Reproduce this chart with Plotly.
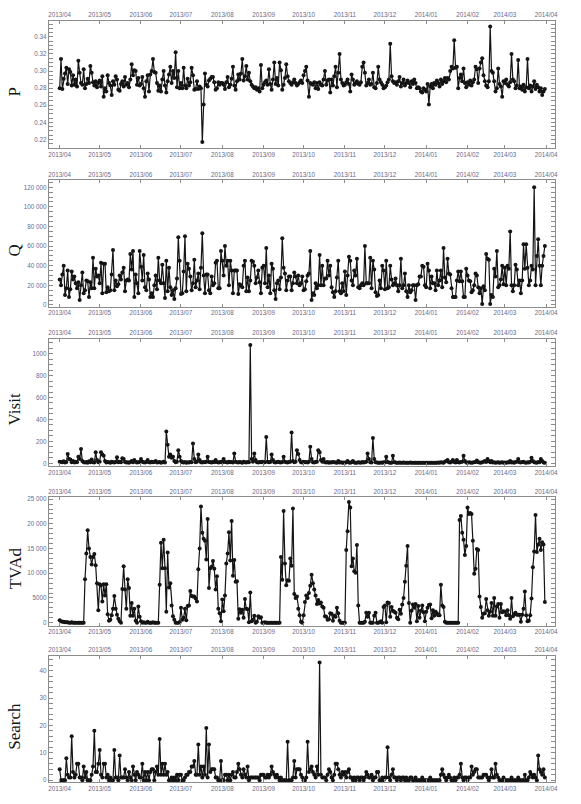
import pandas as pd
import plotly.graph_objects as go

START = "2013-04-01"

# daily series, 2013-04-01 .. 2014-03-31, one row = 10 days
P = [
    0.280, 0.314, 0.279, 0.291, 0.297, 0.304, 0.285, 0.302, 0.299, 0.283,
    0.295, 0.284, 0.290, 0.282, 0.312, 0.298, 0.286, 0.284, 0.302, 0.280,
    0.285, 0.291, 0.286, 0.306, 0.298, 0.287, 0.283, 0.288, 0.281, 0.286,
    0.289, 0.282, 0.294, 0.270, 0.280, 0.276, 0.295, 0.286, 0.283, 0.272,
    0.288, 0.284, 0.294, 0.290, 0.278, 0.277, 0.285, 0.288, 0.282, 0.293,
    0.284, 0.286, 0.281, 0.290, 0.308, 0.295, 0.301, 0.300, 0.284, 0.292,
    0.283,
    0.285, 0.293, 0.280, 0.270, 0.288, 0.295, 0.276, 0.296, 0.300, 0.314,
    0.299, 0.298, 0.286, 0.277, 0.283, 0.276, 0.290, 0.300, 0.283, 0.275,
    0.288, 0.296, 0.305, 0.286, 0.300, 0.292, 0.322, 0.281, 0.300, 0.280,
    0.286, 0.280, 0.304, 0.283, 0.280, 0.291, 0.283, 0.287, 0.304, 0.295,
    0.278, 0.279, 0.288, 0.279, 0.282, 0.280, 0.217, 0.261, 0.297, 0.284,
    0.282, 0.289, 0.291, 0.293, 0.293, 0.287, 0.278, 0.280, 0.287, 0.284,
    0.286,
    0.286, 0.284, 0.279, 0.287, 0.293, 0.281, 0.284, 0.291, 0.305, 0.283,
    0.278, 0.288, 0.296, 0.290, 0.297, 0.314, 0.289, 0.294, 0.306, 0.290,
    0.298, 0.288, 0.284, 0.282, 0.280, 0.281, 0.278, 0.280, 0.276, 0.307,
    0.280,
    0.284, 0.287, 0.289, 0.284, 0.302, 0.285, 0.278, 0.290, 0.310, 0.285,
    0.292, 0.283, 0.310, 0.301, 0.278, 0.284, 0.292, 0.308, 0.294, 0.288,
    0.286, 0.284, 0.287, 0.290, 0.286, 0.283, 0.285, 0.287, 0.289, 0.286,
    0.295, 0.300, 0.305, 0.289, 0.270, 0.286, 0.285, 0.284, 0.287, 0.280,
    0.286, 0.279, 0.287, 0.284, 0.283, 0.290, 0.300, 0.284, 0.289, 0.290,
    0.275, 0.290, 0.283, 0.294, 0.305, 0.281, 0.298, 0.320, 0.290, 0.286,
    0.283,
    0.284, 0.287, 0.290, 0.285, 0.276, 0.296, 0.290, 0.284, 0.286, 0.288,
    0.285, 0.284, 0.287, 0.305, 0.310, 0.298, 0.283, 0.286, 0.290, 0.284,
    0.285, 0.298, 0.281, 0.280, 0.286, 0.305, 0.290, 0.287, 0.284, 0.280,
    0.281, 0.283, 0.287, 0.290, 0.332, 0.294, 0.288, 0.286, 0.287, 0.284,
    0.288, 0.293, 0.282, 0.286, 0.290, 0.283, 0.286, 0.289, 0.286, 0.281,
    0.288, 0.285, 0.290, 0.286, 0.280, 0.281, 0.280, 0.276, 0.275, 0.280,
    0.278,
    0.276, 0.285, 0.261, 0.282, 0.285, 0.280, 0.286, 0.284, 0.289, 0.286,
    0.282, 0.290, 0.285, 0.288, 0.292, 0.287, 0.292, 0.290, 0.300, 0.305,
    0.303, 0.336, 0.304, 0.305, 0.280, 0.292, 0.296, 0.288, 0.303, 0.286,
    0.281,
    0.287, 0.284, 0.289, 0.283, 0.287, 0.290, 0.305, 0.302, 0.286, 0.303,
    0.310, 0.315, 0.295, 0.288, 0.283, 0.281, 0.288, 0.352, 0.300, 0.298,
    0.288, 0.276, 0.280, 0.303, 0.285, 0.282, 0.270, 0.288,
    0.286, 0.290, 0.284, 0.282, 0.287, 0.320, 0.290, 0.288, 0.280, 0.283,
    0.313, 0.280, 0.282, 0.278, 0.284, 0.276, 0.281, 0.314, 0.280, 0.283,
    0.276, 0.282, 0.288, 0.279, 0.284, 0.281, 0.276, 0.280, 0.272, 0.276,
    0.279,
]

Q = [
    26000, 20000, 31000, 40000, 10000, 17000, 35000, 8000, 16000, 34000,
    26000, 29000, 22000, 17000, 23000, 5000, 20000, 33000, 12000, 15000,
    25000, 24000, 8000, 23000, 17000, 48000, 17000, 37000, 29000, 30000,
    22000, 43000, 12000, 42000, 42000, 13000, 18000, 14000, 15000, 31000,
    56000, 15000, 25000, 19000, 21000, 30000, 26000, 33000, 38000, 14000,
    25000, 26000, 25000, 52000, 36000, 55000, 8000, 31000, 22000, 12000,
    55000, 39000, 25000, 51000, 18000, 15000, 32000, 26000, 8000, 12000,
    8000, 20000, 30000, 16000, 48000, 25000, 22000, 41000, 22000, 7000,
    45000, 14000, 38000, 18000, 10000, 15000, 6000, 17000, 27000, 69000,
    45000, 11000, 12000, 34000, 70000, 14000, 42000, 37000, 29000, 15000,
    22000, 46000, 18000, 25000, 32000, 16000, 38000, 73000, 30000, 12000,
    31000, 31000, 15000, 12000, 29000, 20000, 22000, 43000, 45000, 17000,
    17000, 55000, 45000, 30000, 60000, 40000, 45000, 20000, 45000, 35000,
    12000, 35000, 35000, 35000, 11000, 21000, 20000, 18000, 40000, 45000,
    14000, 28000, 14000, 25000, 45000, 44000, 40000, 22000, 28000, 35000,
    23000, 12000, 38000, 40000, 22000, 58000, 18000, 30000, 12000, 42000,
    37000, 15000, 6000, 22000, 25000, 16000, 28000, 68000, 38000, 32000,
    15000, 25000, 29000, 29000, 15000, 22000, 33000, 29000, 22000, 30000,
    20000, 22000, 29000, 15000, 16000, 24000, 30000, 32000, 55000, 5000,
    12000, 10000, 22000, 17000, 20000, 51000, 20000, 40000, 20000, 27000,
    27000, 45000, 30000, 40000, 18000, 13000, 8000, 14000, 28000, 45000,
    14000, 12000, 22000, 14000, 34000, 10000, 30000, 49000, 45000, 25000,
    20000, 35000, 30000, 47000, 18000, 17000, 20000, 22000, 20000, 60000,
    22000, 22000, 22000, 48000, 17000, 45000, 36000, 13000, 9000, 10000,
    25000, 17000, 40000, 35000, 16000, 45000, 17000, 18000, 40000, 26000,
    20000, 22000, 27000, 20000, 14000, 20000, 47000, 17000, 20000, 32000,
    14000, 8000, 20000, 13000, 15000, 20000, 20000, 5000, 20000, 21000,
    29000, 29000, 40000, 39000, 20000, 18000, 42000, 35000, 17000, 29000,
    22000, 22000, 15000, 35000, 20000, 25000, 35000, 18000, 58000, 28000,
    23000, 47000, 32000, 31000, 17000, 8000, 8000, 8000, 25000, 34000,
    24000, 34000, 24000, 8000, 8000, 37000, 30000, 25000, 24000, 13000,
    15000, 20000, 32000, 30000, 18000, 12000, 17000, 1000, 19000, 15000,
    52000, 47000, 46000, 1000, 10000, 8000, 37000, 29000, 55000, 18000,
    20000, 26000, 40000, 21000, 38000, 20000, 40000, 37000, 75000, 20000,
    14000, 20000, 41000, 36000, 20000, 25000, 12000, 25000, 62000, 37000,
    62000, 38000, 20000, 25000, 40000, 36000, 120000, 20000, 50000, 67000,
    40000, 20000, 40000, 50000, 60000,
]

VISIT = [
    15, 12, 10, 18, 8, 12, 85, 40, 35, 10,
    20, 8, 15, 10, 60, 40, 130, 20, 10, 8,
    12, 5, 18, 10, 35, 10, 8, 100, 30, 10,
    15, 100, 80, 70, 20, 8, 12, 10, 6, 15,
    10, 8, 12, 55, 10, 15, 10, 45, 40, 12,
    8, 10, 5, 12, 20, 10, 30, 15, 8, 10,
    12, 40, 15, 10, 8, 12, 30, 10, 8, 15,
    10, 12, 20, 8, 10, 12, 6, 10, 15, 8,
    290, 170, 60, 80, 50, 60, 20, 10, 15, 120,
    60, 20, 10, 8, 12, 6, 10, 8, 12, 10,
    180, 40, 10, 15, 80, 30, 10, 8, 12, 10,
    15, 60, 12, 10, 8, 15, 10, 30, 12, 8,
    10, 15, 8, 40, 12, 10, 8, 15, 10, 12,
    8, 90, 15, 10, 8, 12, 10, 6, 15, 10,
    8, 12, 10, 1080, 40, 15, 90, 30, 10, 8,
    12, 10, 15, 8, 10, 240, 15, 10, 12, 80,
    30, 10, 8, 12, 15, 10, 8, 12, 60, 15,
    10, 8, 12, 15, 280, 20, 10, 15, 120, 85,
    30, 10, 8, 15, 10, 12, 8, 15, 150, 40,
    10, 8, 12, 15, 120, 100, 30, 15, 40, 10,
    8, 12, 6, 10, 8, 12, 10, 8, 6, 20,
    8, 10, 6, 8, 5, 10, 20, 8, 6, 10,
    20, 8, 6, 5, 10, 8, 6, 12, 8, 10,
    15, 90, 40, 10, 8, 230, 40, 10, 8, 6,
    5, 8, 6, 10, 8, 60, 12, 8, 6, 5,
    70, 10, 8, 6, 5, 8, 6, 5, 8, 6,
    5, 6, 5, 8, 5, 6, 5, 4, 6, 5,
    4, 5, 6, 5, 4, 5, 6, 4, 5, 6,
    5, 4, 6, 5, 8, 6, 10, 8, 6, 15,
    20, 30, 10, 8, 15, 30, 12, 8, 30, 10,
    8, 12, 15, 70, 20, 8, 6, 10, 8, 6,
    8, 10, 12, 25, 10, 8, 6, 10, 15, 20,
    12, 40, 20, 10, 20, 8, 10, 6, 8, 10,
    6, 8, 10, 6, 8, 5, 10, 8, 20, 8,
    10, 6, 12, 15, 40, 10, 8, 12, 15, 8,
    6, 10, 8, 15, 50, 20, 10, 8, 6, 12,
    10, 40, 20, 8, 5,
]

TVAD = [
    500, 300, 200, 200, 100, 100, 100, 0, 0, 100,
    0, 0, 0, 0, 0, 0, 0, 0, 0, 8800,
    14000, 18700, 15000, 13300, 11800, 13300, 13900, 11600, 8000, 2500,
    7800, 7600, 4300, 7800, 5500, 7800, 1700, 400, 600, 1500,
    2800, 5400, 2800, 1600, 800, 300, 0, 6800, 11400, 6700,
    2800, 8800, 7000, 1400, 4000, 1400, 2800, 400, 0, 3300,
    1200, 300, 0, 100, 0, 0, 200, 0, 0, 0,
    100, 0, 0, 0, 0, 7700, 16200, 11000, 16800, 11000,
    2200, 14200, 7100, 8000, 3500, 1300, 600, 0, 0, 0,
    100, 3000, 600, 1000, 2800, 500, 3400, 3500, 6400, 5400,
    5300, 5300, 4900, 4300, 10800, 15000, 23500, 18200, 17000, 16600,
    12800, 21000, 7000, 11000, 11300, 12500, 10900, 6700, 9400, 2800,
    1900, 300, 4700, 2300, 5500, 12000, 14000, 18300, 12600, 20600,
    9500, 12700, 8300, 8400, 800, 2700, 2000, 2600, 1000, 4800,
    2800, 2700, 100, 6100, 300, 600, 1400, 0, 200, 1300,
    1000, 1100, 0, 0, 100, 0, 0, 0, 0, 0,
    0, 0, 0, 0, 0, 0, 13300, 8700, 22600, 12000,
    7600, 8600, 8500, 13000, 11500, 23100, 5800, 5000, 5300, 2800,
    1500, 200, 0, 1500, 4200, 5500, 5000, 6000, 7500, 9700,
    8000, 6700, 5500, 3800, 4600, 3900, 4100, 3300, 3000, 1300,
    1200, 600, 700, 1900, 1800, 400, 1400, 1200, 3000, 1900,
    400, 0, 0, 0, 0, 14700, 18500, 24400, 23300, 11400,
    13000, 10400, 10100, 15700, 3500, 0, 0, 0, 0, 200,
    2000, 1200, 2000, 0, 0, 0, 1400, 2000, 0, 0,
    100, 300, 0, 3200, 3500, 100, 4100, 4000, 1200, 3200,
    2400, 2200, 2000, 1000, 700, 2600, 1800, 3700, 5000, 8300,
    11500, 15500, 4000, 0, 2400, 3700, 3000, 3800, 300, 3400,
    1000, 2400, 3500, 2100, 300, 2200, 3000, 3600, 3700, 900,
    2500, 1400, 2200, 1900, 1500, 1500, 7700, 3500, 3200, 200,
    0, 0, 0, 0, 0, 0, 0, 0, 0, 0,
    20800, 21600, 18200, 16800, 13700, 15500, 23300, 22000, 22200, 22000,
    16600, 9900, 10900, 14900, 14700, 5300, 3200, 1000, 1800, 1900,
    4800, 2500, 1400, 2200, 4000, 1400, 5000, 1400, 3300, 3800,
    1000, 3800, 2100, 2300, 2200, 1500, 2500, 1500, 800, 5000,
    1300, 1700, 2000, 1600, 1600, 1600, 200, 1600, 2800, 6300,
    1500, 300, 400, 1500, 4900, 11200, 14400, 21800, 14300, 15800,
    17000, 14700, 16300, 15800, 4200,
]

SEARCH = [
    4, 0, 0, 0, 0, 8, 2, 1, 1, 16,
    3, 1, 2, 6, 6, 1, 1, 0, 5, 1,
    3, 0, 0, 0, 2, 5, 18, 3, 3, 6,
    11, 2, 1, 6, 6, 1, 2, 0, 1, 0,
    0, 11, 1, 1, 0, 9, 1, 1, 1, 4,
    1, 0, 3, 1, 0, 5, 2, 0, 3, 2,
    1, 1, 6, 0, 3, 0, 3, 0, 3, 4,
    4, 0, 3, 5, 2, 15, 2, 6, 2, 6,
    2, 3, 0, 0, 1, 0, 1, 0, 2, 0,
    2, 2, 0, 0, 1, 2, 2, 3, 3, 5,
    5, 7, 2, 2, 13, 2, 5, 1, 5, 2,
    19, 1, 13, 3, 4, 4, 4, 1, 1, 0,
    0, 7, 0, 0, 2, 2, 0, 2, 0, 2,
    3, 1, 1, 3, 6, 4, 2, 1, 4, 2,
    1, 5, 0, 1, 1, 1, 1, 1, 1, 1,
    0, 2, 2, 2, 1, 1, 2, 1, 2, 5,
    3, 2, 1, 2, 1, 0, 1, 0, 0, 0,
    0, 14, 0, 0, 0, 1, 7, 1, 4, 4,
    4, 2, 1, 0, 0, 1, 14, 3, 4, 5,
    3, 2, 1, 5, 2, 43, 2, 1, 1, 1,
    0, 2, 4, 3, 1, 0, 2, 6, 6, 4,
    2, 1, 3, 2, 3, 1, 3, 4, 1, 1,
    0, 1, 0, 1, 1, 0, 1, 1, 0, 1,
    3, 2, 1, 1, 2, 0, 1, 1, 3, 3,
    0, 0, 1, 0, 1, 1, 12, 1, 0, 2,
    4, 1, 1, 0, 1, 1, 0, 1, 1, 0,
    1, 0, 0, 1, 1, 0, 0, 1, 0, 0,
    0, 0, 1, 0, 0, 0, 0, 0, 1, 0,
    0, 0, 0, 0, 0, 0, 2, 4, 2, 1,
    0, 1, 2, 1, 0, 0, 1, 0, 1, 1,
    2, 6, 1, 0, 1, 1, 0, 1, 1, 5,
    2, 3, 4, 4, 1, 1, 1, 1, 2, 2,
    2, 1, 0, 1, 4, 1, 1, 6, 2, 1,
    0, 0, 0, 1, 0, 0, 0, 0, 0, 1,
    0, 0, 0, 0, 1, 0, 0, 0, 0, 2,
    0, 0, 1, 3, 2, 1, 2, 1, 0, 9,
    4, 3, 2, 4, 1,
]

P_TICKS = [0.22, 0.24, 0.26, 0.28, 0.30, 0.32, 0.34]
P_LABELS = ["0.22", "0.24", "0.26", "0.28", "0.30", "0.32", "0.34"]
Q_TICKS = [0, 20000, 40000, 60000, 80000, 100000, 120000]
Q_LABELS = ["0", "20 000", "40 000", "60 000", "80 000", "100 000", "120 000"]
VISIT_TICKS = [0, 200, 400, 600, 800, 1000]
VISIT_LABELS = ["0", "200", "400", "600", "800", "1000"]
TVAD_TICKS = [0, 5000, 10000, 15000, 20000, 25000]
TVAD_LABELS = ["0", "5000", "10 000", "15 000", "20 000", "25 000"]
SEARCH_TICKS = [0, 10, 20, 30, 40]
SEARCH_LABELS = ["0", "10", "20", "30", "40"]

# name, values, y range, ticks, labels, minor step
PANELS = [
    ("P", P, [0.2095, 0.3586], P_TICKS, P_LABELS, 0.005),
    ("Q", Q, [-2000, 127100], Q_TICKS, Q_LABELS, 5000),
    ("Visit", VISIT, [-27, 1136], VISIT_TICKS, VISIT_LABELS, 50),
    ("TVAd", TVAD, [-600, 25400], TVAD_TICKS, TVAD_LABELS, 1000),
    ("Search", SEARCH, [-0.7, 45.5], SEARCH_TICKS, SEARCH_LABELS, 2),
]

W, H = 581, 804
X0, X1 = 49, 558
PANEL_PX = [(19, 147), (179, 306), (338, 466), (497, 626), (656, 783)]
X_RANGE = ["2013-03-23 19:00", "2014-04-07 17:00"]

AXIS_GREY = "#8c8c8c"
INK = "#141414"
TICK_FONT = dict(family="Liberation Sans, Arial, sans-serif", size=6.3, color="#6a6a8c")

fig = go.Figure()
layout = {}
annotations = []

for i, (name, vals, yr, tv, tt, minor) in enumerate(PANELS):
    k = i + 1
    top = k + 5
    xa = "x" if k == 1 else f"x{k}"
    ya = "y" if k == 1 else f"y{k}"
    xkey = "xaxis" if k == 1 else f"xaxis{k}"
    ykey = "yaxis" if k == 1 else f"yaxis{k}"
    dates = pd.date_range(START, periods=len(vals), freq="D")

    fig.add_trace(go.Scatter(
        x=dates, y=vals, mode="lines+markers",
        line=dict(color=INK, width=1.2),
        marker=dict(color=INK, size=4),
        xaxis=xa, yaxis=ya, showlegend=False,
    ))
    # invisible trace so the top date axis gets drawn
    fig.add_trace(go.Scatter(
        x=[dates[0]], y=[yr[0]], mode="markers", marker=dict(opacity=0),
        xaxis=f"x{top}", yaxis=ya, showlegend=False, hoverinfo="skip",
    ))

    y_top, y_bot = PANEL_PX[i]
    xcommon = dict(
        range=X_RANGE, tickmode="linear", tick0=START, dtick="M1",
        tickformat="%Y/%m", ticks="inside", ticklen=3, tickcolor=AXIS_GREY,
        tickfont=TICK_FONT, showgrid=False, zeroline=False,
        showline=True, linecolor=AXIS_GREY, linewidth=1,
        domain=[X0 / W, X1 / W],
    )
    layout[xkey] = dict(xcommon, anchor=ya, side="bottom")
    layout[f"xaxis{top}"] = dict(xcommon, anchor=ya, side="top", overlaying=xa)
    layout[ykey] = dict(
        domain=[1 - y_bot / H, 1 - y_top / H], anchor=xa, range=yr,
        tickmode="array", tickvals=tv, ticktext=tt,
        ticks="inside", ticklen=4, tickcolor=AXIS_GREY, tickfont=TICK_FONT,
        minor=dict(tickmode="linear", tick0=0, dtick=minor, ticks="inside",
                   ticklen=2, tickcolor=AXIS_GREY),
        showgrid=False, zeroline=False, showline=True, linecolor=AXIS_GREY,
        linewidth=1, mirror="allticks",
    )
    annotations.append(dict(
        text=name, x=15 / W, y=1 - ((y_top + y_bot) / 2 + 7) / H,
        xref="paper", yref="paper", textangle=-90, showarrow=False,
        xanchor="center", yanchor="middle",
        font=dict(family="Liberation Serif, Times New Roman, serif", size=17, color=INK),
    ))

fig.update_layout(
    width=W, height=H,
    margin=dict(l=0, r=0, t=0, b=0),
    paper_bgcolor="white", plot_bgcolor="white",
    annotations=annotations,
    **layout,
)

# page body has a default 8px margin; drop it so the figure fills the window
fig.write_html(
    "out.html",
    config={"displayModeBar": False},
    post_script="document.body.style.margin = '0';",
)
